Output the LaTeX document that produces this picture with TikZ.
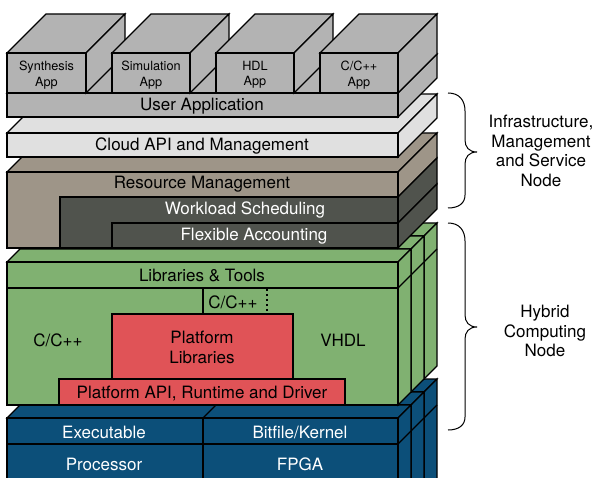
\documentclass[tikz,border=0pt]{standalone}
\usepackage{fontspec}
\setmainfont{TeX Gyre Heros}
\definecolor{appgray}{HTML}{B3B3B3}
\definecolor{cloudgray}{HTML}{E0E0E0}
\definecolor{resbrown}{HTML}{9E9588}
\definecolor{darkslab}{HTML}{50534D}
\definecolor{nodegreen}{HTML}{80B171}
\definecolor{platred}{HTML}{E05357}
\definecolor{hwblue}{HTML}{0C4F79}
\tikzset{
  edge/.style={draw=black, line width=1.2pt, line join=miter},
  lbl/.style={font=\fontsize{17}{20}\selectfont, inner sep=0pt, align=center, yshift=-1.5pt},
  wlbl/.style={lbl, text=white},
  applbl/.style={font=\fontsize{12.7}{15.5}\selectfont, inner sep=0pt, align=center, yshift=-2pt},
  sidelbl/.style={font=\fontsize{17}{19.5}\selectfont, inner sep=0pt, align=center},
  bracestroke/.style={draw=black, line width=1pt},
}
% a box seen from above right: front face, top face and right face
% #1,#2 = front top-left, #3,#4 = front bottom-right, #5 = depth, #6 = fill
\newcommand\slab[6]{%
  \filldraw[edge, fill=#6] (#1,#2) -- (#3,#2) -- ({#3+#5},{#2-#5}) -- ({#1+#5},{#2-#5}) -- cycle;
  \filldraw[edge, fill=#6] (#3,#2) -- ({#3+#5},{#2-#5}) -- ({#3+#5},{#4-#5}) -- (#3,#4) -- cycle;
  \filldraw[edge, fill=#6] (#1,#2) rectangle (#3,#4);
}
\begin{document}
\begin{tikzpicture}[x=1pt,y=-1pt]
\useasboundingbox (0,0) rectangle (597,478);
\clip (0,0) rectangle (597,478);

% ---- hardware cards (back to front) ----
\foreach \k in {2,1,0} {
  \pgfmathsetmacro\xa{7+13*\k}
  \pgfmathsetmacro\ya{418-13*\k}
  \pgfmathsetmacro\xb{398+13*\k}
  \pgfmathsetmacro\yb{530-13*\k}
  \pgfmathsetmacro\ym{444-13*\k}
  \slab{\xa}{\ya}{\xb}{\yb}{13}{hwblue}
  \draw[edge] (\xb,\ym) -- ({\xb+13},{\ym-13});
}
\draw[edge] (7,444) -- (398,444);
\draw[edge] (203,418) -- (203,478);
\draw[edge] (203,418) -- (216,405);
\node[wlbl] (exe) at (104,431) {Executable};
\node[wlbl] (bit) at (300,431) {Bitfile/Kernel};
\node[wlbl] (cpu) at (104,463) {Processor};
\node[wlbl] (fpga) at (300,463) {FPGA};

% ---- hybrid computing node cards (back to front) ----
\foreach \k in {2,1,0} {
  \pgfmathsetmacro\xa{7+13*\k}
  \pgfmathsetmacro\ya{262-13*\k}
  \pgfmathsetmacro\xb{398+13*\k}
  \pgfmathsetmacro\yb{405-13*\k}
  \pgfmathsetmacro\ym{288-13*\k}
  \slab{\xa}{\ya}{\xb}{\yb}{13}{nodegreen}
  \draw[edge] (\xb,\ym) -- ({\xb+13},{\ym-13});
}
\draw[edge] (7,288) -- (398,288);
\draw[edge] (203,288) -- (203,314);
\draw[black, line width=1.5pt, dash pattern=on 2pt off 3pt] (267,289) -- (267,314);
\filldraw[edge, fill=platred] (112,314) rectangle (293,379);
\filldraw[edge, fill=platred] (59,379) rectangle (345,405);
\node[lbl] (libtools) at (202,274) {Libraries \& Tools};
\node[lbl] (ccsmall) at (233,301) {C/C++};
\node[lbl] (ccleft) at (58,339) {C/C++};
\node[lbl] (vhdl) at (343,339) {VHDL};
\node[lbl] (platlib) at (202,346) {Platform\\Libraries};
\node[lbl] (platapi) at (202,392) {Platform API, Runtime and Driver};

% ---- resource management block ----
\filldraw[edge, fill=resbrown] (7,172) -- (398,172) -- (437,133) -- (46,133) -- cycle;
\filldraw[edge, fill=resbrown] (398,172) -- (437,133) -- (437,158) -- (398,197) -- cycle;
\filldraw[edge, fill=darkslab] (398,197) -- (437,158) -- (437,184) -- (398,223) -- cycle;
\filldraw[edge, fill=darkslab] (398,223) -- (437,184) -- (437,209) -- (398,248) -- cycle;
\filldraw[edge, fill=resbrown] (7,172) rectangle (398,248);
\filldraw[edge, fill=darkslab] (60,197) rectangle (398,248);
\filldraw[edge, fill=darkslab] (112,223) rectangle (398,248);
\node[lbl] (resmgmt) at (202,183) {Resource Management};
\node[wlbl] (workload) at (245,209) {Workload Scheduling};
\node[wlbl] (account) at (254,235) {Flexible Accounting};

% ---- cloud API layer ----
\slab{7}{133}{398}{157}{39}{cloudgray}
\node[lbl] (cloud) at (202,145) {Cloud API and Management};

% ---- user application layer and apps ----
\slab{7}{93}{398}{117}{39}{appgray}
\node[lbl] (userapp) at (202,105) {User Application};
\slab{7}{53}{86}{93}{39}{appgray}
\slab{112}{53}{190}{93}{39}{appgray}
\slab{216}{53}{294}{93}{39}{appgray}
\slab{320}{53}{398}{93}{39}{appgray}
\node[applbl] (synth) at (46.5,73) {Synthesis\\App};
\node[applbl] (sim) at (151,73) {Simulation\\App};
\node[applbl] (hdl) at (255,73) {HDL\\App};
\node[applbl] (capp) at (359,73) {C/C++\\App};

% ---- braces and their captions ----
\draw[bracestroke] (448,93) .. controls (459,93) and (465,100) .. (465,111)
  -- (465,140) .. controls (465,147) and (469,152) .. (477,152)
  .. controls (469,152) and (465,157) .. (465,164)
  -- (465,195) .. controls (465,203) and (459,208) .. (448,208);
\draw[bracestroke] (448,223) .. controls (459,223) and (465,230) .. (465,241)
  -- (465,315) .. controls (465,322) and (469,327) .. (477,327)
  .. controls (469,327) and (465,332) .. (465,339)
  -- (465,417) .. controls (465,425) and (459,430) .. (448,430);
\node[sidelbl] (infra) at (541,151) {Infrastructure,\\Management\\and Service\\Node};
\node[sidelbl] (hybrid) at (545,331) {Hybrid\\Computing\\Node};
\end{tikzpicture}
\end{document}
